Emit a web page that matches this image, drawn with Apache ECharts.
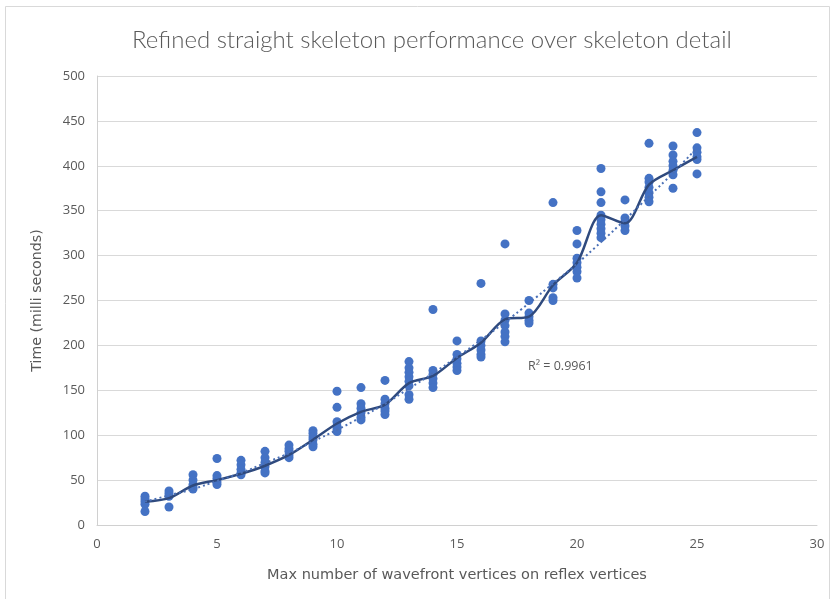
<!DOCTYPE html>
<html>
<head>
<meta charset="utf-8">
<script src="https://cdn.jsdelivr.net/npm/echarts@6/dist/echarts.min.js"></script>
<style>
  html, body { margin: 0; padding: 0; background: #fff; }
  #main { width: 832px; height: 599px; }
</style>
</head>
<body>
<div id="main"></div>
<script>
// max wavefront vertices on reflex vertices (x)
var vertexCounts = [2, 3, 4, 5, 6, 7, 8, 9, 10, 11, 12, 13, 14, 15, 16, 17, 18, 19, 20, 21, 22, 23, 24, 25];
// measured runs, one list per x
var timeSamples = [
  [32, 29, 26, 23, 15],
  [38, 35, 32, 20],
  [56, 50, 45, 42, 40],
  [74, 55, 52, 48, 45],
  [72, 67, 62, 58, 56],
  [82, 75, 70, 65, 60, 58],
  [89, 85, 82, 78, 75],
  [105, 102, 98, 95, 90, 87],
  [149, 131, 115, 110, 107, 104],
  [153, 135, 130, 125, 120, 117],
  [161, 140, 135, 130, 127, 123],
  [182, 175, 170, 165, 160, 155, 145, 140],
  [240, 172, 168, 163, 158, 153],
  [205, 190, 185, 180, 176, 172],
  [269, 205, 200, 195, 190, 187],
  [313, 235, 228, 222, 215, 210, 204],
  [250, 236, 232, 228, 225],
  [359, 268, 264, 253, 250],
  [328, 313, 297, 292, 287, 282, 275],
  [397, 371, 359, 345, 340, 335, 330, 325, 320],
  [362, 342, 338, 333, 328],
  [425, 386, 382, 376, 370, 365, 360],
  [422, 412, 405, 400, 395, 390, 375],
  [437, 420, 415, 410, 407, 391]
];
// average line (smoothed in the original)
var meanTimes = [26, 30, 44, 50, 57, 66, 78, 95, 113, 126, 134, 158, 166, 186, 203, 229, 232, 267, 292, 345, 336, 379, 395, 410];
// polynomial trendline
var trendTimes = [26, 33, 40, 49, 58, 69, 80, 93, 106, 120, 135, 152, 169, 187, 206, 226, 247, 269, 291, 315, 340, 366, 392, 420];

var xTicks = [0, 5, 10, 15, 20, 25, 30];
var yTicks = [0, 50, 100, 150, 200, 250, 300, 350, 400, 450, 500];

var scatterData = [];
for (var i = 0; i < vertexCounts.length; i++) {
  for (var j = 0; j < timeSamples[i].length; j++) {
    scatterData.push([vertexCounts[i], timeSamples[i][j]]);
  }
}
function pairUp(ys) {
  return vertexCounts.map(function (x, k) { return [x, ys[k]]; });
}

var chart = echarts.init(document.getElementById('main'), null, { renderer: 'canvas' });
var textGrey = '#595959';
var option = {
  animation: false,
  backgroundColor: '#fff',
  title: {
    text: 'Refined straight skeleton performance over skeleton detail',
    left: 127,
    top: 23,
    textStyle: { fontFamily: 'Lato', fontWeight: 300, fontSize: 24, color: textGrey }
  },
  grid: { left: 97, right: 15, top: 76, bottom: 74 },
  xAxis: {
    type: 'value',
    min: xTicks[0],
    max: xTicks[xTicks.length - 1],
    interval: 5,
    name: 'Max number of wavefront vertices on reflex vertices',
    nameLocation: 'middle',
    nameGap: 43,
    nameTextStyle: { fontFamily: 'DejaVu Sans', fontSize: 14.5, color: textGrey },
    axisLine: { show: true, lineStyle: { color: '#D0D0D0' } },
    axisTick: { show: false },
    axisLabel: { fontFamily: 'Open Sans', fontSize: 13, color: textGrey, margin: 13 },
    splitLine: { show: false }
  },
  yAxis: {
    type: 'value',
    min: yTicks[0],
    max: yTicks[yTicks.length - 1],
    interval: 50,
    name: 'Time (milli seconds)',
    nameLocation: 'middle',
    nameGap: 53,
    nameTextStyle: { fontFamily: 'DejaVu Sans', fontSize: 14.2, color: textGrey },
    axisLine: { show: true, lineStyle: { color: '#D0D0D0' } },
    axisTick: { show: false },
    axisLabel: { fontFamily: 'Open Sans', fontSize: 13, color: textGrey, margin: 12 },
    splitLine: { show: true, lineStyle: { color: '#D9D9D9' } }
  },
  series: [
    {
      name: 'runs',
      type: 'scatter',
      data: scatterData,
      symbolSize: 9,
      itemStyle: { color: '#4472C4', opacity: 1 },
      z: 2
    },
    {
      name: 'trend',
      type: 'line',
      data: pairUp(trendTimes),
      smooth: true,
      showSymbol: false,
      lineStyle: { color: '#4A6FB5', width: 2, type: [2, 3] },
      z: 4
    },
    {
      name: 'mean',
      type: 'line',
      data: pairUp(meanTimes),
      smooth: 0.3,
      showSymbol: false,
      lineStyle: { color: '#2F4A7E', width: 2.5 },
      z: 3
    }
  ],
  graphic: [
    {
      type: 'rect',
      shape: { x: 5.5, y: 6.5, width: 824, height: 600 },
      style: { fill: null, stroke: '#D9D9D9', lineWidth: 1 },
      silent: true
    },
    {
      type: 'text',
      left: 528,
      top: 360,
      style: { text: 'R² = 0.9961', fontFamily: 'Open Sans', fontSize: 12.5, fill: textGrey }
    }
  ]
};
chart.setOption(option);
</script>
</body>
</html>
